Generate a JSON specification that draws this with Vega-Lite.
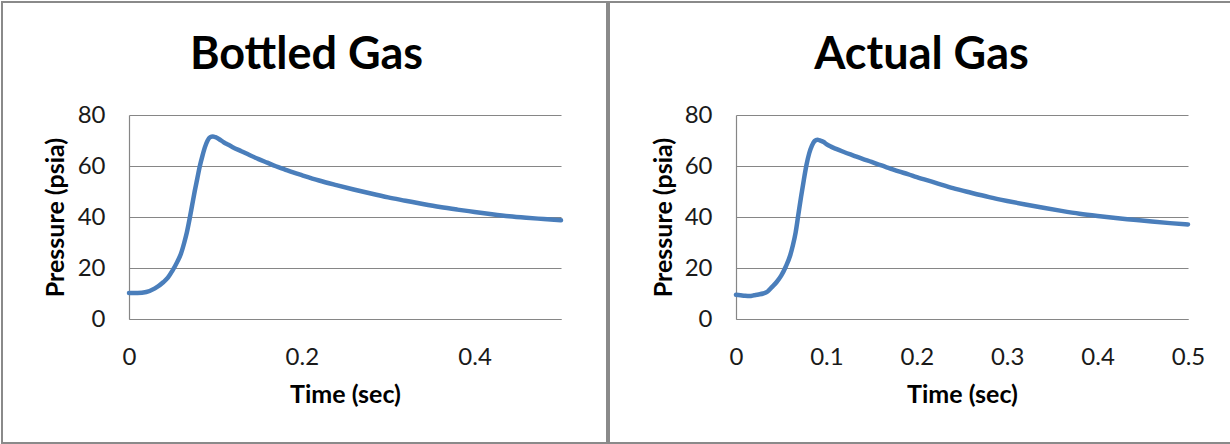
{
  "$schema": "https://vega.github.io/schema/vega-lite/v6.json",
  "padding": {"left": 1, "top": 1, "right": 0, "bottom": 0},
  "background": "white",
  "spacing": 0,
  "config": {
    "font": "Lato",
    "view": {"stroke": "#8a8a8a", "strokeWidth": 2},
    "axis": {
      "labelFont": "Lato",
      "labelFontSize": 24,
      "labelColor": "#1a1a1a",
      "labelFlush": false,
      "labelOverlap": false,
      "labelBound": false,
      "ticks": false,
      "tickSize": 0,
      "domainColor": "#868686",
      "domainWidth": 1.2,
      "gridColor": "#868686",
      "gridWidth": 1.2,
      "gridOpacity": 1,
      "titleFont": "Lato",
      "titleFontSize": 25,
      "titleFontWeight": "bold",
      "titleColor": "#000000"
    }
  },
  "data": {
    "values": [
      {"gas": "Bottled", "t": 0.0, "p": 10.2},
      {"gas": "Bottled", "t": 0.01, "p": 10.2},
      {"gas": "Bottled", "t": 0.02, "p": 10.6},
      {"gas": "Bottled", "t": 0.03, "p": 12.0},
      {"gas": "Bottled", "t": 0.04, "p": 14.5},
      {"gas": "Bottled", "t": 0.045, "p": 16.2},
      {"gas": "Bottled", "t": 0.05, "p": 18.8},
      {"gas": "Bottled", "t": 0.056, "p": 22.5},
      {"gas": "Bottled", "t": 0.06, "p": 25.5},
      {"gas": "Bottled", "t": 0.064, "p": 30.0},
      {"gas": "Bottled", "t": 0.067, "p": 34.0},
      {"gas": "Bottled", "t": 0.07, "p": 39.0},
      {"gas": "Bottled", "t": 0.073, "p": 44.5},
      {"gas": "Bottled", "t": 0.076, "p": 50.0},
      {"gas": "Bottled", "t": 0.079, "p": 55.0},
      {"gas": "Bottled", "t": 0.082, "p": 60.0},
      {"gas": "Bottled", "t": 0.085, "p": 64.0},
      {"gas": "Bottled", "t": 0.088, "p": 67.5},
      {"gas": "Bottled", "t": 0.091, "p": 70.0},
      {"gas": "Bottled", "t": 0.094, "p": 71.3},
      {"gas": "Bottled", "t": 0.097, "p": 71.6},
      {"gas": "Bottled", "t": 0.1, "p": 71.3},
      {"gas": "Bottled", "t": 0.104, "p": 70.6},
      {"gas": "Bottled", "t": 0.11, "p": 69.2},
      {"gas": "Bottled", "t": 0.115, "p": 68.3},
      {"gas": "Bottled", "t": 0.12, "p": 67.4},
      {"gas": "Bottled", "t": 0.13, "p": 65.8},
      {"gas": "Bottled", "t": 0.14, "p": 64.2},
      {"gas": "Bottled", "t": 0.15, "p": 62.7},
      {"gas": "Bottled", "t": 0.16, "p": 61.3},
      {"gas": "Bottled", "t": 0.17, "p": 59.9},
      {"gas": "Bottled", "t": 0.18, "p": 58.7},
      {"gas": "Bottled", "t": 0.19, "p": 57.5},
      {"gas": "Bottled", "t": 0.2, "p": 56.4},
      {"gas": "Bottled", "t": 0.22, "p": 54.3},
      {"gas": "Bottled", "t": 0.24, "p": 52.5},
      {"gas": "Bottled", "t": 0.26, "p": 50.8},
      {"gas": "Bottled", "t": 0.28, "p": 49.2},
      {"gas": "Bottled", "t": 0.3, "p": 47.7},
      {"gas": "Bottled", "t": 0.32, "p": 46.4},
      {"gas": "Bottled", "t": 0.34, "p": 45.1},
      {"gas": "Bottled", "t": 0.36, "p": 43.9},
      {"gas": "Bottled", "t": 0.38, "p": 42.9},
      {"gas": "Bottled", "t": 0.4, "p": 42.0},
      {"gas": "Bottled", "t": 0.42, "p": 41.1},
      {"gas": "Bottled", "t": 0.44, "p": 40.3},
      {"gas": "Bottled", "t": 0.46, "p": 39.7},
      {"gas": "Bottled", "t": 0.48, "p": 39.2},
      {"gas": "Bottled", "t": 0.5, "p": 38.7},
      {"gas": "Actual", "t": 0.0, "p": 9.5},
      {"gas": "Actual", "t": 0.005, "p": 9.3},
      {"gas": "Actual", "t": 0.01, "p": 9.1},
      {"gas": "Actual", "t": 0.015, "p": 9.0},
      {"gas": "Actual", "t": 0.02, "p": 9.3},
      {"gas": "Actual", "t": 0.025, "p": 9.6},
      {"gas": "Actual", "t": 0.03, "p": 10.0},
      {"gas": "Actual", "t": 0.035, "p": 10.8},
      {"gas": "Actual", "t": 0.04, "p": 12.6},
      {"gas": "Actual", "t": 0.045, "p": 14.5},
      {"gas": "Actual", "t": 0.05, "p": 17.0},
      {"gas": "Actual", "t": 0.055, "p": 20.5},
      {"gas": "Actual", "t": 0.06, "p": 25.0},
      {"gas": "Actual", "t": 0.063, "p": 29.0},
      {"gas": "Actual", "t": 0.066, "p": 34.0},
      {"gas": "Actual", "t": 0.069, "p": 41.0},
      {"gas": "Actual", "t": 0.072, "p": 48.0},
      {"gas": "Actual", "t": 0.075, "p": 54.5},
      {"gas": "Actual", "t": 0.078, "p": 60.5},
      {"gas": "Actual", "t": 0.081, "p": 65.0},
      {"gas": "Actual", "t": 0.084, "p": 68.0},
      {"gas": "Actual", "t": 0.087, "p": 69.8},
      {"gas": "Actual", "t": 0.09, "p": 70.3},
      {"gas": "Actual", "t": 0.093, "p": 70.0},
      {"gas": "Actual", "t": 0.097, "p": 69.4},
      {"gas": "Actual", "t": 0.1, "p": 68.6},
      {"gas": "Actual", "t": 0.105, "p": 67.6},
      {"gas": "Actual", "t": 0.11, "p": 66.8},
      {"gas": "Actual", "t": 0.12, "p": 65.4},
      {"gas": "Actual", "t": 0.13, "p": 64.1},
      {"gas": "Actual", "t": 0.14, "p": 62.8},
      {"gas": "Actual", "t": 0.15, "p": 61.6},
      {"gas": "Actual", "t": 0.16, "p": 60.3},
      {"gas": "Actual", "t": 0.17, "p": 59.1},
      {"gas": "Actual", "t": 0.18, "p": 57.9},
      {"gas": "Actual", "t": 0.19, "p": 56.8},
      {"gas": "Actual", "t": 0.2, "p": 55.6},
      {"gas": "Actual", "t": 0.22, "p": 53.5},
      {"gas": "Actual", "t": 0.24, "p": 51.3},
      {"gas": "Actual", "t": 0.26, "p": 49.5},
      {"gas": "Actual", "t": 0.28, "p": 47.8},
      {"gas": "Actual", "t": 0.3, "p": 46.3},
      {"gas": "Actual", "t": 0.32, "p": 44.9},
      {"gas": "Actual", "t": 0.34, "p": 43.6},
      {"gas": "Actual", "t": 0.36, "p": 42.4},
      {"gas": "Actual", "t": 0.38, "p": 41.3},
      {"gas": "Actual", "t": 0.4, "p": 40.4},
      {"gas": "Actual", "t": 0.42, "p": 39.6},
      {"gas": "Actual", "t": 0.44, "p": 38.9},
      {"gas": "Actual", "t": 0.46, "p": 38.2},
      {"gas": "Actual", "t": 0.48, "p": 37.6},
      {"gas": "Actual", "t": 0.5, "p": 37.1}
    ]
  },
  "hconcat": [
    {
      "width": 605,
      "height": 441,
      "transform": [{"filter": "datum.gas === 'Bottled'"}],
      "resolve": {"axis": {"x": "independent"}},
      "layer": [
        {
          "mark": {"type": "line", "color": "#4a7ebb", "strokeWidth": 4.5, "interpolate": "monotone", "strokeCap": "round", "strokeJoin": "round"},
          "encoding": {
            "x": {
              "field": "t", "type": "quantitative",
              "scale": {"domain": [0, 0.5], "range": [127, 559], "nice": false, "zero": false},
              "axis": {"title": "Time (sec)", "values": [0, 0.2, 0.4], "format": "~g", "offset": -124, "grid": false, "labelPadding": 26, "titleX": 343, "titleY": 83, "titleBaseline": "alphabetic"}
            },
            "y": {
              "field": "p", "type": "quantitative",
              "scale": {"domain": [0, 80], "range": [317, 113], "nice": false},
              "axis": {"title": "Pressure (psia)", "values": [0, 20, 40, 60, 80], "offset": -127, "grid": true, "labelPadding": 24, "titleX": -66, "titleY": 215, "titleAngle": 270, "titleBaseline": "alphabetic", "titleAlign": "center"}
            }
          }
        },
        {
          "mark": {"type": "line", "opacity": 0, "interpolate": "monotone"},
          "encoding": {
            "x": {
              "field": "t", "type": "quantitative",
              "axis": {"orient": "top", "title": "Bottled Gas", "values": [], "labels": false, "domain": false, "grid": false, "offset": 0, "titleFontSize": 45, "titleX": 304, "titleY": 66, "titleBaseline": "alphabetic", "titleAlign": "center"}
            },
            "y": {"field": "p", "type": "quantitative"}
          }
        }
      ]
    },
    {
      "width": 623,
      "height": 441,
      "transform": [{"filter": "datum.gas === 'Actual'"}],
      "resolve": {"axis": {"x": "independent"}},
      "layer": [
        {
          "mark": {"type": "line", "color": "#4a7ebb", "strokeWidth": 4.5, "interpolate": "monotone", "strokeCap": "round", "strokeJoin": "round"},
          "encoding": {
            "x": {
              "field": "t", "type": "quantitative",
              "scale": {"domain": [0, 0.5], "range": [127, 579], "nice": false, "zero": false},
              "axis": {"title": "Time (sec)", "values": [0, 0.1, 0.2, 0.3, 0.4, 0.5], "format": "~g", "offset": -124, "grid": false, "labelPadding": 26, "titleX": 353, "titleY": 83, "titleBaseline": "alphabetic"}
            },
            "y": {
              "field": "p", "type": "quantitative",
              "scale": {"domain": [0, 80], "range": [317, 113], "nice": false},
              "axis": {"title": "Pressure (psia)", "values": [0, 20, 40, 60, 80], "offset": -127, "grid": true, "labelPadding": 24, "titleX": -65, "titleY": 215, "titleAngle": 270, "titleBaseline": "alphabetic", "titleAlign": "center"}
            }
          }
        },
        {
          "mark": {"type": "line", "opacity": 0, "interpolate": "monotone"},
          "encoding": {
            "x": {
              "field": "t", "type": "quantitative",
              "axis": {"orient": "top", "title": "Actual Gas", "values": [], "labels": false, "domain": false, "grid": false, "offset": 0, "titleFontSize": 45, "titleX": 312, "titleY": 66, "titleBaseline": "alphabetic", "titleAlign": "center"}
            },
            "y": {"field": "p", "type": "quantitative"}
          }
        }
      ]
    }
  ]
}
